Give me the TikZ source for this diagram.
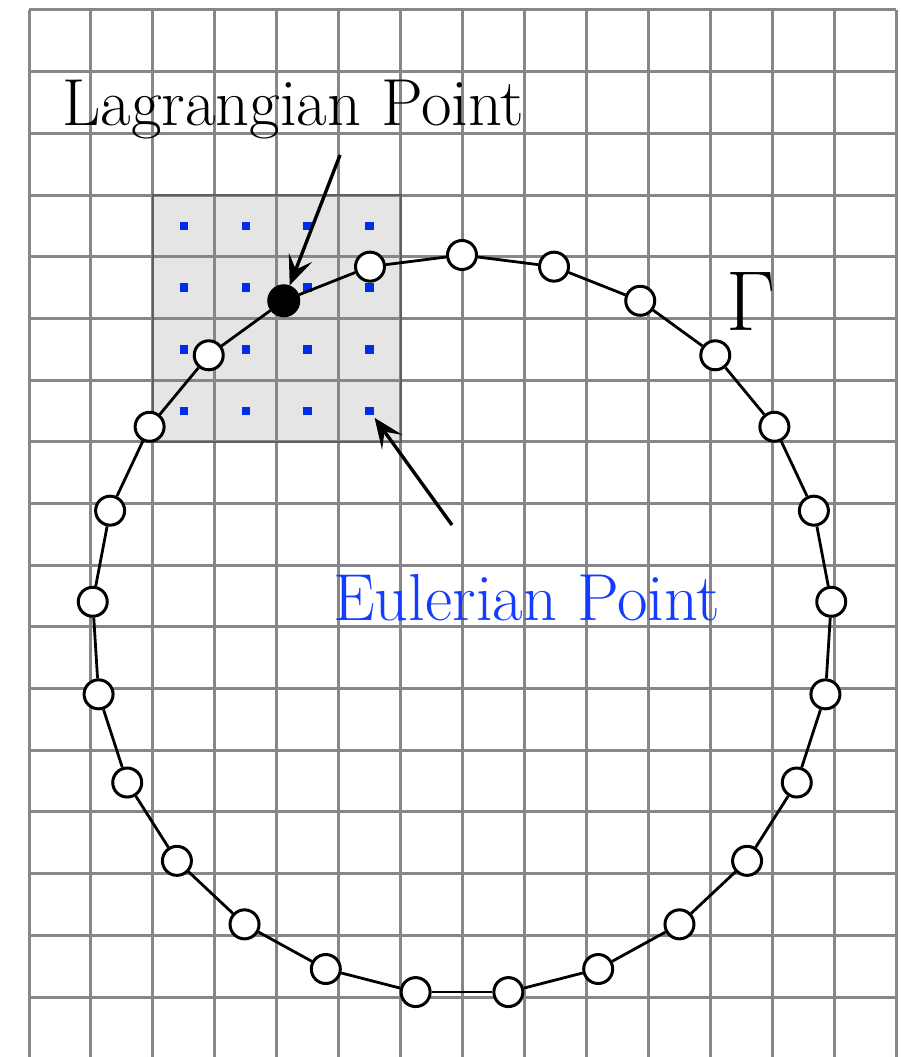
\documentclass[tikz,border=0pt]{standalone}
\usepackage{fontspec}
\usetikzlibrary{arrows.meta}
\definecolor{gridgray}{RGB}{135,135,135}
\definecolor{boxgray}{RGB}{229,229,229}
\definecolor{boxedge}{RGB}{95,95,95}
\definecolor{dotblue}{RGB}{0,45,230}
\definecolor{textblue}{RGB}{20,60,255}
\tikzset{
  gridline/.style={draw=gridgray, line width=3pt},
  lpt/.style={circle, draw=black, fill=white, line width=3pt, minimum size=29pt, inner sep=0pt},
  lptblack/.style={circle, draw=black, fill=black, line width=1pt, minimum size=32pt, inner sep=0pt},
  edot/.style={rectangle, fill=dotblue, minimum size=8.5pt, inner sep=0pt},
  curve/.style={draw=black, line width=2.8pt},
  arr/.style={draw=black, line width=3.4pt, -{Stealth[length=30pt, width=25pt, inset=13pt]}},
  lbl/.style={inner sep=0pt, anchor=base west},
  bigtext/.style={font=\fontsize{66.5}{70}\selectfont}
}
\begin{document}
\begin{tikzpicture}[x=1pt, y=-1pt]
\useasboundingbox (0,0) rectangle (900,1057);
% shaded support box
\fill[boxgray] (152.9,195.1) rectangle (400.6,441.8);
% grid
\foreach \k in {0,...,14} \draw[gridline] ({29+61.93*\k},10) -- ({29+61.93*\k},1060);
\foreach \k in {0,...,17} \draw[gridline] (29,{10+61.69*\k}) -- (896,{10+61.69*\k});
\draw[draw=boxedge, line width=2pt] (152.9,195.1) rectangle (400.6,441.8);
% Eulerian points
\foreach \i in {1,...,4} {
  \foreach \j in {1,...,4} {
    \node[edot] (d\i\j) at ({29+61.93*(\i+1.5)}, {10+61.69*(\j+2.5)}) {};
  }
}
% Lagrangian points on Gamma
\foreach \i in {0,...,24} {
  \ifnum\i=2
    \node[lptblack] (p\i) at ({462+370*cos(90+14.4*\i)}, {625-370*sin(90+14.4*\i)}) {};
  \else
    \node[lpt] (p\i) at ({462+370*cos(90+14.4*\i)}, {625-370*sin(90+14.4*\i)}) {};
  \fi
}
\foreach \i in {0,...,24} {
  \pgfmathtruncatemacro{\j}{mod(\i+1,25)}
  \draw[curve] (p\i) -- (p\j);
}
% labels
\node[lbl, bigtext] (lag) at (62,125) {Lagrangian Point};
\node[lbl, bigtext, text=textblue] (eul) at (333,620) {Eulerian Point};
\node[lbl, font=\Huge, scale=3.42] (gam) at (726,330) {$\Gamma$};
% arrows
\coordinate (ltail) at (340,155);
\coordinate (etail) at (452,525);
\draw[arr] (ltail) -- (p2);
\draw[arr, shorten >=3pt] (etail) -- (d44);
\end{tikzpicture}
\end{document}
